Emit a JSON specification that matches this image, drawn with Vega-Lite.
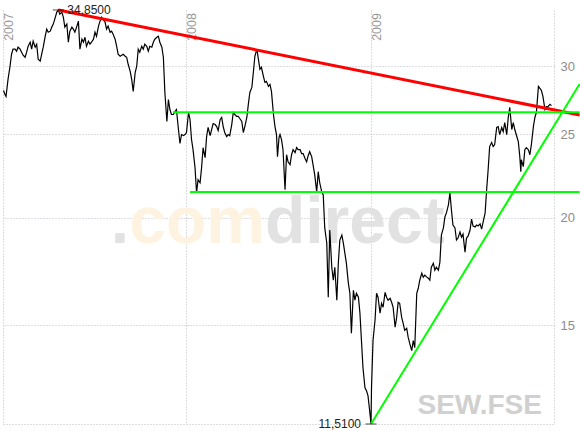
{
  "$schema": "https://vega.github.io/schema/vega-lite/v6.json",
  "width": 551,
  "height": 414,
  "autosize": {"type": "none"},
  "padding": {"left": 3, "top": 10, "right": 26, "bottom": 7},
  "background": "white",
  "config": {"view": {"stroke": null}, "font": "Liberation Sans"},
  "title": {
    "text": "202 78% Hi\u00a0\u00a0\u00a0\u00a0\u00a0\u00a0Intervall: 1 Tag",
    "orient": "bottom", "anchor": "start", "font": "Liberation Sans", "fontSize": 11,
    "fontWeight": "normal", "color": "#999999", "offset": 0, "dx": -3, "baseline": "top"
  },
  "datasets": {
    "prices": [
      {"date":"2007-01-02","value":28.10},{"date":"2007-01-05","value":27.80},{"date":"2007-01-07","value":27.65},{"date":"2007-01-11","value":28.95},{"date":"2007-01-15","value":29.98},{"date":"2007-01-18","value":30.96},{"date":"2007-01-21","value":31.38},{"date":"2007-01-25","value":31.38},{"date":"2007-01-28","value":31.21},{"date":"2007-01-31","value":31.55},
      {"date":"2007-02-04","value":31.38},{"date":"2007-02-07","value":31.13},{"date":"2007-02-10","value":30.88},{"date":"2007-02-14","value":30.71},{"date":"2007-02-17","value":31.13},{"date":"2007-02-20","value":31.63},{"date":"2007-02-24","value":31.97},{"date":"2007-02-27","value":31.38},
      {"date":"2007-03-02","value":32.06},{"date":"2007-03-06","value":31.55},{"date":"2007-03-09","value":31.80},{"date":"2007-03-12","value":30.55},{"date":"2007-03-16","value":30.39},{"date":"2007-03-19","value":30.96},{"date":"2007-03-22","value":31.55},{"date":"2007-03-26","value":32.49},{"date":"2007-03-29","value":33.11},
      {"date":"2007-04-01","value":32.84},{"date":"2007-04-05","value":32.93},{"date":"2007-04-08","value":33.29},{"date":"2007-04-11","value":33.56},{"date":"2007-04-14","value":34.01},{"date":"2007-04-18","value":34.66},{"date":"2007-04-21","value":34.85},{"date":"2007-04-24","value":34.47},{"date":"2007-04-28","value":34.66},
      {"date":"2007-05-01","value":34.19},{"date":"2007-05-04","value":33.29},{"date":"2007-05-08","value":33.56},{"date":"2007-05-11","value":31.97},{"date":"2007-05-14","value":32.93},{"date":"2007-05-18","value":33.29},{"date":"2007-05-21","value":33.11},{"date":"2007-05-24","value":32.84},{"date":"2007-05-28","value":33.38},{"date":"2007-05-31","value":33.83},
      {"date":"2007-06-03","value":31.38},{"date":"2007-06-07","value":32.23},{"date":"2007-06-10","value":31.97},{"date":"2007-06-13","value":32.40},{"date":"2007-06-16","value":31.63},{"date":"2007-06-20","value":32.06},{"date":"2007-06-23","value":31.80},{"date":"2007-06-26","value":31.97},{"date":"2007-06-30","value":32.23},
      {"date":"2007-07-03","value":32.84},{"date":"2007-07-06","value":32.49},{"date":"2007-07-10","value":33.38},{"date":"2007-07-13","value":33.83},{"date":"2007-07-16","value":34.19},{"date":"2007-07-19","value":34.01},{"date":"2007-07-23","value":33.74},{"date":"2007-07-26","value":33.11},{"date":"2007-07-29","value":33.38},
      {"date":"2007-08-02","value":32.84},{"date":"2007-08-05","value":32.93},{"date":"2007-08-08","value":32.67},{"date":"2007-08-12","value":32.23},{"date":"2007-08-15","value":31.63},{"date":"2007-08-18","value":30.96},{"date":"2007-08-22","value":30.79},{"date":"2007-08-25","value":30.88},{"date":"2007-08-28","value":30.96},
      {"date":"2007-09-01","value":30.79},{"date":"2007-09-04","value":30.71},{"date":"2007-09-07","value":30.14},{"date":"2007-09-11","value":29.58},{"date":"2007-09-14","value":28.95},{"date":"2007-09-17","value":28.03},{"date":"2007-09-21","value":29.50},{"date":"2007-09-24","value":29.98},{"date":"2007-09-27","value":31.38},{"date":"2007-09-30","value":31.13},
      {"date":"2007-10-04","value":31.63},{"date":"2007-10-07","value":31.38},{"date":"2007-10-10","value":31.80},{"date":"2007-10-14","value":31.63},{"date":"2007-10-17","value":31.21},{"date":"2007-10-20","value":31.63},{"date":"2007-10-24","value":31.55},{"date":"2007-10-27","value":31.97},{"date":"2007-10-30","value":32.23},
      {"date":"2007-11-03","value":32.40},{"date":"2007-11-06","value":32.49},{"date":"2007-11-09","value":31.97},{"date":"2007-11-13","value":31.55},{"date":"2007-11-16","value":30.71},{"date":"2007-11-19","value":27.95},{"date":"2007-11-23","value":25.86},{"date":"2007-11-26","value":27.43},{"date":"2007-11-29","value":26.70},
      {"date":"2007-12-02","value":26.35},{"date":"2007-12-06","value":26.35},{"date":"2007-12-09","value":26.56},{"date":"2007-12-12","value":26.70},{"date":"2007-12-16","value":25.31},{"date":"2007-12-19","value":24.38},{"date":"2007-12-22","value":24.97},{"date":"2007-12-26","value":24.90},{"date":"2007-12-29","value":24.97},
      {"date":"2008-01-01","value":25.11},{"date":"2008-01-05","value":26.49},{"date":"2008-01-08","value":26.00},{"date":"2008-01-11","value":24.64},{"date":"2008-01-14","value":23.98},{"date":"2008-01-18","value":22.85},{"date":"2008-01-21","value":21.37},{"date":"2008-01-24","value":22.13},{"date":"2008-01-28","value":21.95},{"date":"2008-01-31","value":22.85},
      {"date":"2008-02-03","value":24.11},{"date":"2008-02-07","value":23.47},{"date":"2008-02-10","value":24.84},{"date":"2008-02-13","value":25.45},{"date":"2008-02-17","value":24.90},{"date":"2008-02-20","value":25.31},{"date":"2008-02-23","value":25.72},{"date":"2008-02-27","value":25.65},
      {"date":"2008-03-01","value":25.51},{"date":"2008-03-04","value":25.24},{"date":"2008-03-08","value":26.00},{"date":"2008-03-11","value":26.14},{"date":"2008-03-14","value":25.51},{"date":"2008-03-17","value":25.11},{"date":"2008-03-21","value":24.84},{"date":"2008-03-24","value":24.97},{"date":"2008-03-27","value":24.90},{"date":"2008-03-31","value":25.65},
      {"date":"2008-04-03","value":26.49},{"date":"2008-04-06","value":26.35},{"date":"2008-04-10","value":26.21},{"date":"2008-04-13","value":26.21},{"date":"2008-04-16","value":26.07},{"date":"2008-04-20","value":25.86},{"date":"2008-04-23","value":25.11},{"date":"2008-04-26","value":25.51},{"date":"2008-04-30","value":26.14},
      {"date":"2008-05-03","value":27.07},{"date":"2008-05-06","value":27.95},{"date":"2008-05-10","value":28.33},{"date":"2008-05-13","value":29.50},{"date":"2008-05-16","value":30.79},{"date":"2008-05-20","value":31.38},{"date":"2008-05-23","value":30.55},{"date":"2008-05-26","value":29.74},{"date":"2008-05-29","value":29.90},
      {"date":"2008-06-02","value":29.18},{"date":"2008-06-05","value":28.72},{"date":"2008-06-08","value":28.79},{"date":"2008-06-12","value":28.41},{"date":"2008-06-15","value":28.56},{"date":"2008-06-18","value":28.03},{"date":"2008-06-22","value":26.35},{"date":"2008-06-25","value":25.51},{"date":"2008-06-28","value":24.97},{"date":"2008-06-30","value":23.54},
      {"date":"2008-07-03","value":24.77},{"date":"2008-07-05","value":24.97},{"date":"2008-07-08","value":24.64},{"date":"2008-07-11","value":23.98},{"date":"2008-07-15","value":21.54},{"date":"2008-07-18","value":23.66},{"date":"2008-07-21","value":23.22},{"date":"2008-07-25","value":23.04},{"date":"2008-07-28","value":23.66},{"date":"2008-07-31","value":23.98},
      {"date":"2008-08-04","value":23.79},{"date":"2008-08-07","value":24.11},{"date":"2008-08-10","value":23.98},{"date":"2008-08-14","value":23.98},{"date":"2008-08-17","value":23.73},{"date":"2008-08-20","value":23.73},{"date":"2008-08-24","value":23.41},{"date":"2008-08-27","value":23.22},{"date":"2008-08-30","value":23.60},
      {"date":"2008-09-02","value":23.85},{"date":"2008-09-06","value":23.54},{"date":"2008-09-09","value":22.98},{"date":"2008-09-12","value":22.43},{"date":"2008-09-16","value":21.42},{"date":"2008-09-19","value":22.61},{"date":"2008-09-22","value":21.95},{"date":"2008-09-26","value":21.42},{"date":"2008-09-29","value":21.25},
      {"date":"2008-10-02","value":19.45},{"date":"2008-10-06","value":18.68},{"date":"2008-10-09","value":16.16},{"date":"2008-10-12","value":19.34},{"date":"2008-10-16","value":17.51},{"date":"2008-10-19","value":16.91},{"date":"2008-10-22","value":17.51},{"date":"2008-10-26","value":16.03},{"date":"2008-10-29","value":17.70},
      {"date":"2008-11-01","value":18.83},{"date":"2008-11-05","value":19.08},{"date":"2008-11-08","value":18.68},{"date":"2008-11-11","value":18.18},{"date":"2008-11-14","value":17.70},{"date":"2008-11-18","value":16.77},{"date":"2008-11-21","value":16.33},{"date":"2008-11-24","value":14.67},{"date":"2008-11-28","value":16.46},
      {"date":"2008-12-01","value":16.03},{"date":"2008-12-04","value":16.33},{"date":"2008-12-08","value":16.16},{"date":"2008-12-11","value":15.48},{"date":"2008-12-14","value":14.39},{"date":"2008-12-17","value":13.39},{"date":"2008-12-21","value":12.68},{"date":"2008-12-24","value":12.58},{"date":"2008-12-27","value":12.42},{"date":"2008-12-31","value":11.83},
      {"date":"2009-01-02","value":11.51},{"date":"2009-01-03","value":12.68},{"date":"2009-01-06","value":14.39},{"date":"2009-01-10","value":15.19},{"date":"2009-01-13","value":16.33},{"date":"2009-01-16","value":16.16},{"date":"2009-01-20","value":15.48},{"date":"2009-01-23","value":15.90},{"date":"2009-01-26","value":15.73},{"date":"2009-01-30","value":16.37},
      {"date":"2009-02-02","value":16.16},{"date":"2009-02-05","value":16.03},{"date":"2009-02-09","value":16.11},{"date":"2009-02-12","value":15.94},{"date":"2009-02-15","value":15.73},{"date":"2009-02-19","value":14.91},{"date":"2009-02-22","value":15.31},{"date":"2009-02-25","value":15.94},{"date":"2009-02-28","value":15.90},
      {"date":"2009-03-04","value":15.31},{"date":"2009-03-07","value":15.07},{"date":"2009-03-10","value":14.79},{"date":"2009-03-14","value":14.87},{"date":"2009-03-17","value":14.51},{"date":"2009-03-20","value":14.28},{"date":"2009-03-24","value":14.01},{"date":"2009-03-27","value":14.39},{"date":"2009-03-30","value":14.12},
      {"date":"2009-04-03","value":16.33},{"date":"2009-04-06","value":16.55},{"date":"2009-04-09","value":16.91},{"date":"2009-04-13","value":17.23},{"date":"2009-04-16","value":17.05},{"date":"2009-04-19","value":17.14},{"date":"2009-04-23","value":17.05},{"date":"2009-04-26","value":17.00},{"date":"2009-04-29","value":16.91},
      {"date":"2009-05-02","value":17.51},{"date":"2009-05-06","value":17.70},{"date":"2009-05-09","value":17.37},{"date":"2009-05-12","value":17.51},{"date":"2009-05-16","value":17.37},{"date":"2009-05-19","value":17.74},{"date":"2009-05-22","value":19.08},{"date":"2009-05-26","value":19.45},{"date":"2009-05-29","value":20.03},
      {"date":"2009-06-01","value":20.25},{"date":"2009-06-05","value":20.69},{"date":"2009-06-08","value":21.37},{"date":"2009-06-11","value":20.41},{"date":"2009-06-14","value":19.60},{"date":"2009-06-18","value":19.45},{"date":"2009-06-21","value":18.83},{"date":"2009-06-24","value":18.93},{"date":"2009-06-28","value":19.24},
      {"date":"2009-07-01","value":18.98},{"date":"2009-07-04","value":19.13},{"date":"2009-07-08","value":18.23},{"date":"2009-07-11","value":18.93},{"date":"2009-07-14","value":19.03},{"date":"2009-07-18","value":19.34},{"date":"2009-07-21","value":19.92},{"date":"2009-07-24","value":19.55},{"date":"2009-07-28","value":19.50},{"date":"2009-07-31","value":19.60},
      {"date":"2009-08-03","value":19.55},{"date":"2009-08-07","value":19.66},{"date":"2009-08-10","value":19.39},{"date":"2009-08-13","value":19.76},{"date":"2009-08-17","value":20.25},{"date":"2009-08-20","value":21.54},{"date":"2009-08-23","value":22.73},{"date":"2009-08-26","value":24.18},{"date":"2009-08-30","value":24.44},
      {"date":"2009-09-02","value":24.18},{"date":"2009-09-05","value":24.31},{"date":"2009-09-09","value":25.45},{"date":"2009-09-12","value":25.51},{"date":"2009-09-15","value":24.97},{"date":"2009-09-19","value":25.45},{"date":"2009-09-22","value":25.17},{"date":"2009-09-25","value":25.79},{"date":"2009-09-29","value":24.97},
      {"date":"2009-10-02","value":26.14},{"date":"2009-10-05","value":26.85},{"date":"2009-10-09","value":25.31},{"date":"2009-10-12","value":25.79},{"date":"2009-10-15","value":25.31},{"date":"2009-10-19","value":24.84},{"date":"2009-10-22","value":24.51},{"date":"2009-10-25","value":23.54},{"date":"2009-10-27","value":22.61},{"date":"2009-10-28","value":23.35},
      {"date":"2009-11-01","value":22.92},{"date":"2009-11-04","value":23.98},{"date":"2009-11-07","value":24.11},{"date":"2009-11-11","value":23.98},{"date":"2009-11-14","value":23.66},{"date":"2009-11-17","value":24.31},{"date":"2009-11-21","value":25.51},{"date":"2009-11-24","value":26.14},{"date":"2009-11-27","value":26.49},
      {"date":"2009-12-01","value":28.41},{"date":"2009-12-04","value":28.26},{"date":"2009-12-07","value":28.10},{"date":"2009-12-10","value":27.65},{"date":"2009-12-14","value":26.70},{"date":"2009-12-17","value":26.91},{"date":"2009-12-20","value":26.91},{"date":"2009-12-24","value":27.07},{"date":"2009-12-27","value":26.98}
    ]
  },
  "encoding": {
    "x": {
      "field": "date", "type": "temporal",
      "scale": {"type": "utc", "domain": [{"year": 2007, "month": 1, "date": 1, "utc": true}, {"year": 2010, "month": 1, "date": 1, "utc": true}], "nice": false},
      "axis": {
        "orient": "bottom", "title": null, "labels": false, "ticks": false,
        "domain": true, "domainColor": "#bbbbbb", "domainDash": [1, 2],
        "grid": true, "gridColor": "#bbbbbb", "gridDash": [1, 2],
        "values": [{"year": 2007, "month": 1, "date": 1, "utc": true}, {"year": 2008, "month": 1, "date": 1, "utc": true}, {"year": 2009, "month": 1, "date": 1, "utc": true}, {"year": 2010, "month": 1, "date": 1, "utc": true}]
      }
    },
    "y": {
      "field": "value", "type": "quantitative",
      "scale": {"type": "log", "domain": [11.51, 34.85], "nice": false, "zero": false},
      "axis": {
        "orient": "right", "title": null, "values": [15, 20, 25, 30],
        "labelColor": "#8c8c8c", "labelFontSize": 13, "labelFont": "Liberation Sans", "labelPadding": 6,
        "labelAlign": "left", "labelBaseline": "middle", "labelFlush": false, "labelOverlap": false,
        "ticks": false, "domain": false,
        "grid": true, "gridColor": "#bbbbcc", "gridDash": [1, 2]
      }
    }
  },
  "layer": [
    {
      "data": {"values": [{"date": "2007-09-09", "value": 18.68, "label": "."}]},
      "mark": {"type": "text", "align": "right", "baseline": "alphabetic", "font": "Liberation Sans", "fontSize": 66, "fontWeight": "bold", "color": "#e2e2e2"},
      "encoding": {"text": {"field": "label"}}
    },
    {
      "data": {"values": [{"date": "2008-06-05", "value": 18.68, "label": "com"}]},
      "mark": {"type": "text", "align": "right", "baseline": "alphabetic", "font": "Liberation Sans", "fontSize": 66, "fontWeight": "bold", "color": "#fdf3e0"},
      "encoding": {"text": {"field": "label"}}
    },
    {
      "data": {"values": [{"date": "2008-06-05", "value": 18.68, "label": "direct"}]},
      "mark": {"type": "text", "align": "left", "baseline": "alphabetic", "font": "Liberation Sans", "fontSize": 66, "fontWeight": "bold", "color": "#e2e2e2"},
      "encoding": {"text": {"field": "label"}}
    },
    {
      "data": {"values": [{"date": "2009-12-08", "value": 11.82, "label": "SEW.FSE"}]},
      "mark": {"type": "text", "align": "right", "baseline": "alphabetic", "font": "Liberation Sans", "fontSize": 28, "fontWeight": "bold", "color": "#d0d0d0"},
      "encoding": {"text": {"field": "label"}}
    },
    {
      "data": {"values": [{"date": "2007-01-01", "value": 34.57, "label": "2007"}, {"date": "2008-01-01", "value": 34.57, "label": "2008"}, {"date": "2009-01-01", "value": 34.57, "label": "2009"}]},
      "mark": {"type": "text", "angle": 270, "align": "right", "baseline": "alphabetic", "dy": 10, "font": "Liberation Sans", "fontSize": 12.5, "color": "#999999"},
      "encoding": {"text": {"field": "label"}}
    },
    {
      "data": {"name": "prices"},
      "mark": {"type": "line", "color": "#000000", "strokeWidth": 1.2},
      "encoding": {}
    },
    {
      "data": {"values": [{"date": "2007-04-21", "value": 34.85}, {"date": "2010-02-21", "value": 26.31}]},
      "mark": {"type": "line", "color": "#ff0000", "strokeWidth": 3},
      "encoding": {}
    },
    {
      "data": {"values": [{"date": "2007-12-05", "value": 26.5}, {"date": "2010-02-21", "value": 26.5}]},
      "mark": {"type": "line", "color": "#00ff00", "strokeWidth": 2},
      "encoding": {}
    },
    {
      "data": {"values": [{"date": "2008-01-08", "value": 21.41}, {"date": "2010-02-21", "value": 21.41}]},
      "mark": {"type": "line", "color": "#00ff00", "strokeWidth": 2},
      "encoding": {}
    },
    {
      "data": {"values": [{"date": "2009-01-02", "value": 11.51}, {"date": "2010-02-21", "value": 28.59}]},
      "mark": {"type": "line", "color": "#00ff00", "strokeWidth": 2},
      "encoding": {}
    },
    {
      "data": {"values": [{"date": "2007-04-21", "value": 34.85}, {"date": "2009-01-02", "value": 11.51}]},
      "mark": {"type": "tick", "orient": "horizontal", "size": 11, "thickness": 1, "color": "#000000"}
    },
    {
      "data": {"values": [{"date": "2007-04-21", "value": 34.85, "label": "34,8500"}]},
      "mark": {"type": "text", "align": "left", "baseline": "middle", "dx": 9, "font": "Liberation Sans", "fontSize": 12, "color": "#222222"},
      "encoding": {"text": {"field": "label"}}
    },
    {
      "data": {"values": [{"date": "2009-01-02", "value": 11.51, "label": "11,5100"}]},
      "mark": {"type": "text", "align": "right", "baseline": "middle", "dx": -10, "font": "Liberation Sans", "fontSize": 12, "color": "#222222"},
      "encoding": {"text": {"field": "label"}}
    }
  ]
}
